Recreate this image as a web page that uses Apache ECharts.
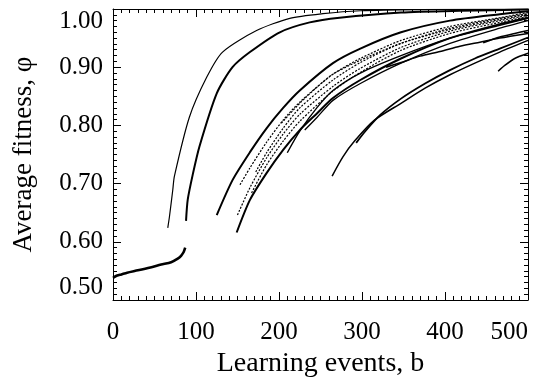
<!DOCTYPE html>
<html>
<head>
<meta charset="utf-8">
<script src="https://cdn.jsdelivr.net/npm/echarts@6/dist/echarts.min.js"></script>
<style>
html, body { margin: 0; padding: 0; background: #fff; }
#chart { width: 554px; height: 377px; }
</style>
</head>
<body>
<div id="chart"></div>
<script>
// values, pairs of [learning events b, average fitness phi]
const preLearning = [[0,0.538],[5,0.542],[10,0.544],[17,0.547],[30,0.551],[45,0.556],[58,0.561],[70,0.565],[78,0.571],[82,0.576],[85,0.582],[87,0.590]];
const curveA = [[66,0.624],[68,0.643],[72,0.689],[74,0.713],[92,0.814],[113,0.883],[132,0.926],[173,0.963],[213,0.984],[253,0.992],[298,0.997],[370,0.999],[500,1.000]];
const curveB = [[88,0.636],[90,0.672],[96,0.715],[104,0.763],[125,0.855],[144,0.900],[165,0.926],[201,0.960],[237,0.977],[273,0.985],[347,0.994],[418,0.997],[500,0.999]];
const curveC = [[125,0.646],[144,0.706],[165,0.754],[185,0.795],[205,0.830],[225,0.860],[265,0.907],[298,0.932],[347,0.960],[406,0.980],[466,0.991],[500,0.996]];
const curveD1 = [[150,0.646],[165,0.693],[185,0.744],[205,0.785],[225,0.819],[265,0.867],[298,0.898],[347,0.934],[406,0.962],[466,0.980],[500,0.989]];
const curveD2 = [[153,0.698],[165,0.727],[185,0.771],[205,0.809],[225,0.840],[265,0.888],[298,0.915],[347,0.946],[406,0.970],[466,0.985],[500,0.994]];
const curveD3 = [[167,0.684],[185,0.732],[205,0.773],[225,0.807],[265,0.859],[298,0.891],[347,0.929],[406,0.958],[466,0.977],[500,0.987]];
const curveD4 = [[172,0.720],[185,0.753],[205,0.795],[225,0.830],[265,0.878],[298,0.908],[347,0.941],[406,0.967],[466,0.984],[500,0.992]];
const curveE = [[149,0.616],[165,0.672],[185,0.718],[205,0.758],[225,0.792],[246,0.821],[265,0.847],[298,0.878],[347,0.915],[406,0.950],[466,0.974],[500,0.985]];
const curveF = [[210,0.753],[225,0.790],[246,0.831],[265,0.860],[298,0.890],[347,0.920],[406,0.950],[466,0.972],[500,0.984]];
const curveG = [[203,0.804],[225,0.838],[246,0.866],[265,0.888],[298,0.912],[347,0.941],[406,0.965],[466,0.982],[500,0.991]];
const curveH = [[231,0.792],[246,0.814],[265,0.843],[298,0.872],[347,0.907],[406,0.941],[466,0.967],[500,0.980]];
const curveS1 = [[264,0.713],[277,0.746],[291,0.773],[315,0.809],[347,0.838],[376,0.864],[406,0.887],[436,0.907],[466,0.926],[500,0.946]];
const curveS2 = [[293,0.770],[304,0.790],[322,0.818],[347,0.846],[376,0.872],[406,0.895],[436,0.915],[466,0.932],[500,0.951]];
const curveJ = [[329,0.900],[347,0.908],[370,0.919],[394,0.927],[418,0.936],[442,0.943],[466,0.950],[500,0.958]];
const curveK = [[446,0.942],[466,0.952],[484,0.958],[500,0.963]];
const curveL = [[464,0.893],[472,0.903],[484,0.915],[500,0.924]];

const xTicks = { min: 0, max: 500, step: 100 };
const yTicks = { min: 0.5, max: 1.0, step: 0.1 };

const serif = 'Liberation Serif';

// how each run is drawn
const runs = [
  { data: preLearning, width: 2.6 },
  { data: curveA, width: 1.2 },
  { data: curveB, width: 2 },
  { data: curveC, width: 2 },
  { data: curveD1, width: 1.2, dotted: true },
  { data: curveD2, width: 1.2, dotted: true },
  { data: curveD3, width: 1.2, dotted: true },
  { data: curveD4, width: 1.2, dotted: true },
  { data: curveE, width: 2 },
  { data: curveF, width: 1.4 },
  { data: curveG, width: 1.2, dotted: true },
  { data: curveH, width: 1.3 },
  { data: curveS1, width: 1.5 },
  { data: curveS2, width: 1.8 },
  { data: curveJ, width: 1.5 },
  { data: curveK, width: 1.5 },
  { data: curveL, width: 1.5 }
];

const chart = echarts.init(document.getElementById('chart'));

const tickStyle = { inside: true, length: 8, lineStyle: { color: '#000', width: 1 } };
const minorStyle = { show: true, splitNumber: 10, length: 4, lineStyle: { color: '#000', width: 1 } };
const lineStyle = { onZero: false, lineStyle: { color: '#000', width: 1 } };

const option = {
  animation: false,
  backgroundColor: '#fff',
  grid: { left: 113, right: 26, top: 9, bottom: 77, outerBoundsMode: 'none' },
  xAxis: [
    {
      type: 'value', position: 'bottom',
      min: xTicks.min, max: xTicks.max, interval: xTicks.step,
      name: 'Learning events, b', nameLocation: 'middle', nameGap: 38,
      nameTextStyle: { fontFamily: serif, fontSize: 28, color: '#000' },
      axisLine: lineStyle, axisTick: tickStyle, minorTick: minorStyle,
      splitLine: { show: false },
      axisLabel: { fontFamily: serif, fontSize: 25, color: '#000', margin: 20, alignMaxLabel: 'right' }
    },
    {
      type: 'value', position: 'top',
      min: xTicks.min, max: xTicks.max, interval: xTicks.step,
      axisLine: lineStyle, axisTick: tickStyle, minorTick: minorStyle,
      splitLine: { show: false }, axisLabel: { show: false }
    }
  ],
  yAxis: [
    {
      type: 'value', position: 'left',
      min: yTicks.min, max: yTicks.max, interval: yTicks.step,
      name: 'Average fitness, \u03c6', nameLocation: 'middle', nameGap: 76,
      nameTextStyle: { fontFamily: serif, fontSize: 27, color: '#000' },
      axisLine: lineStyle, axisTick: tickStyle, minorTick: minorStyle,
      splitLine: { show: false },
      axisLabel: {
        fontFamily: serif, fontSize: 25, color: '#000', margin: 10,
        formatter: v => v.toFixed(2),
        verticalAlignMinLabel: 'bottom', verticalAlignMaxLabel: 'top'
      }
    },
    {
      type: 'value', position: 'right',
      min: yTicks.min, max: yTicks.max, interval: yTicks.step,
      axisLine: lineStyle, axisTick: tickStyle, minorTick: minorStyle,
      splitLine: { show: false }, axisLabel: { show: false }
    }
  ],
  series: runs.map(r => ({
    type: 'line',
    xAxisIndex: 0,
    yAxisIndex: 0,
    data: r.data,
    showSymbol: false,
    smooth: 0.25,
    silent: true,
    lineStyle: { color: '#000', width: r.width, type: r.dotted ? [2, 1.5] : 'solid' }
  }))
};

chart.setOption(option);
</script>
</body>
</html>
